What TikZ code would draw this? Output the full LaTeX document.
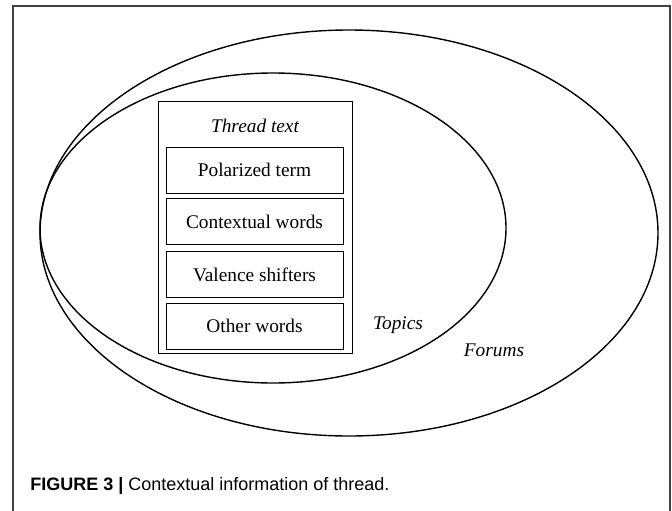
\documentclass[tikz,border=0pt]{standalone}
\usepackage{fontspec}
\setmainfont{Liberation Serif}
\newfontfamily\capfont{Liberation Sans}
\usepackage{tikz}
\usetikzlibrary{positioning}

\begin{document}
\begin{tikzpicture}[x=0.75pt,y=-0.75pt,
  wordbox/.style={draw,line width=0.75pt,minimum width=132.75pt,minimum height=34.5pt,inner sep=0pt,font=\fontsize{14.5}{16}\selectfont},
  threadbox/.style={draw,line width=0.75pt,minimum width=145.5pt,minimum height=189pt,inner sep=0pt},
  setname/.style={font=\fontsize{14.5}{16}\selectfont\itshape}]
  \useasboundingbox (0,0) rectangle (672,511);
  % frame
  \draw[black!75,line width=0.8pt] (13,511)--(13,6)--(670,6)--(670,511);
  % forums and topics
  \draw[line width=1.05pt] (349,233) ellipse [x radius=309,y radius=203];
  \draw[line width=1.05pt] (273,228) ellipse [x radius=233,y radius=155];
  % thread text
  \node[threadbox] (thread) at (255,227) {};
  \node[setname] (title) at (255,126) {Thread text};
  \node[wordbox] (polar) at (254.5,170) {Polarized term};
  \node[wordbox] (context) at (254.5,221.5) {Contextual words};
  \node[wordbox] (valence) at (254.5,274.5) {Valence shifters};
  \node[wordbox] (other) at (254.5,326) {Other words};
  \node[setname] (topics) at (398,325) {Topics};
  \node[setname] (forums) at (494,350) {Forums};
  % caption
  \node[anchor=base west,inner sep=0pt,font=\capfont\fontsize{13.5}{16}\selectfont] (caption) at (30,490)
    {\textbf{FIGURE 3 |} Contextual information of thread.};
\end{tikzpicture}
\end{document}
